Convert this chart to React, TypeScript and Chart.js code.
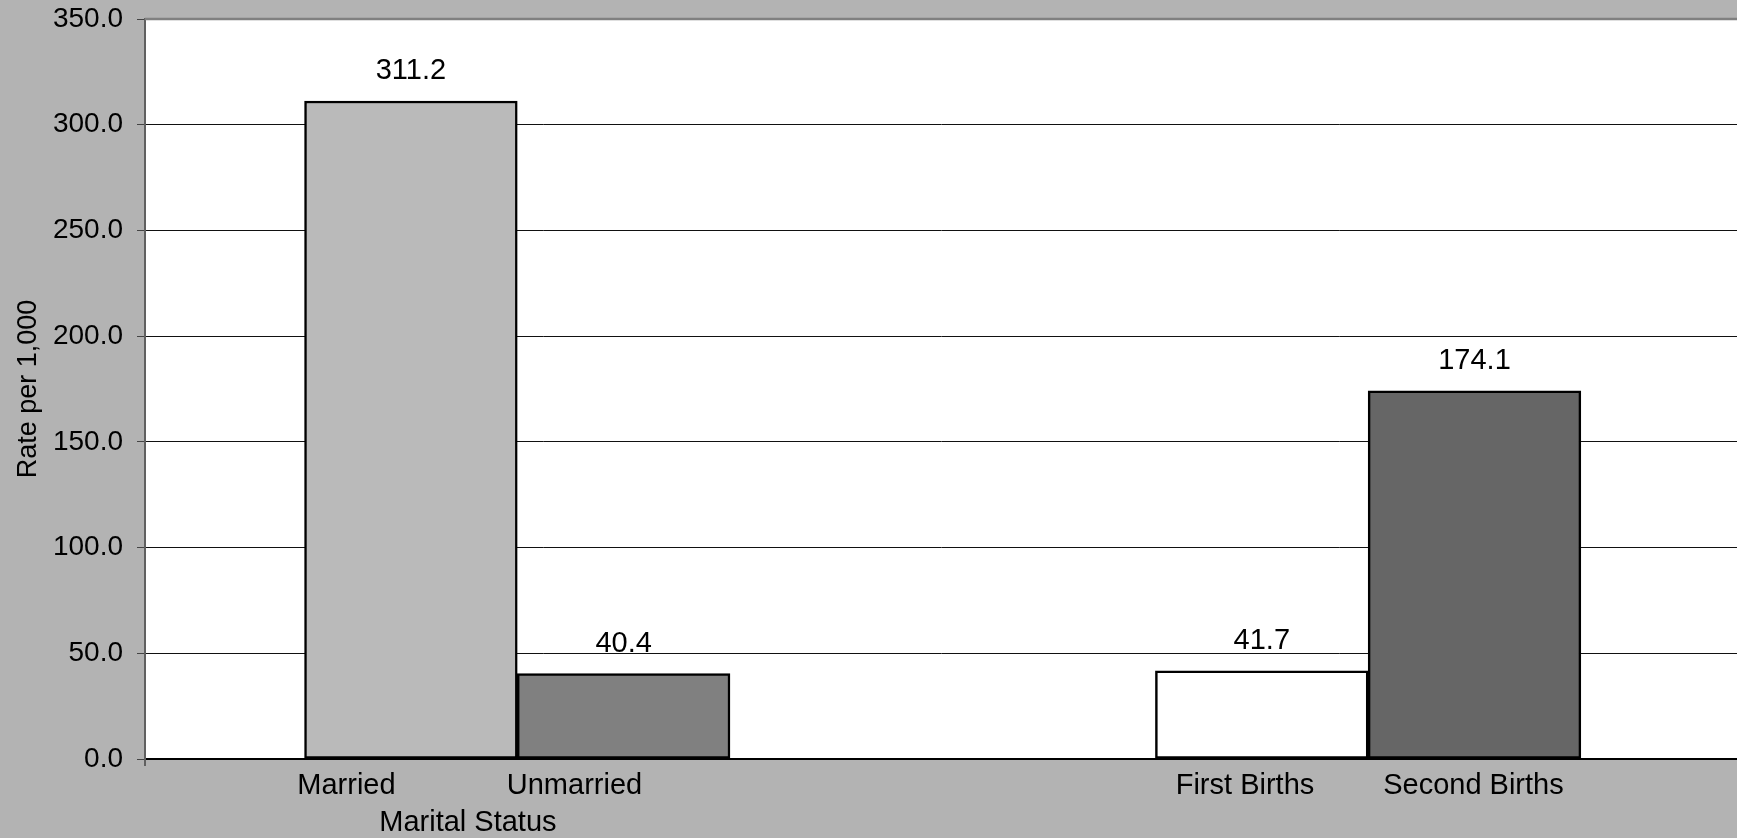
import React, { useEffect, useRef } from "react";
import { Chart, registerables } from "chart.js";

Chart.register(...registerables);

// ---- data ----
const categories = ["Married", "Unmarried", "First Births", "Second Births"];
const rates = [311.2, 40.4, 41.7, 174.1];
const groupOf = [0, 0, 1, 1];
const groupTitles = ["Marital Status"];
const yTicks = [0, 50, 100, 150, 200, 250, 300, 350];
const barColors = ["#bababa", "#808080", "#ffffff", "#666666"];

// ---- layout constants ----
const GAP_SLOTS = 2;
const X_MIN = -1.25;
const X_MAX = 6.234;
const LABEL_NUDGE = [-0.303, -0.231, -0.079, -0.005];
const TITLE_NUDGE = [-0.232];
const FONT = "'Liberation Sans', Arial, sans-serif";
const W = 1737;
const H = 838;

const slotOf = (i: number) => i + groupOf[i] * GAP_SLOTS;
const groupCenter = (g: number) => {
  const s = categories.map((_, i) => i).filter((i) => groupOf[i] === g).map(slotOf);
  return s.reduce((a, b) => a + b, 0) / s.length;
};

const noPad = (scale: any) => {
  scale.paddingTop = 0;
  scale.paddingBottom = 0;
  scale.paddingLeft = 0;
  scale.paddingRight = 0;
};

const plotFrame = {
  id: "plotFrame",
  beforeDraw(chart: any) {
    const { ctx, chartArea: a } = chart;
    ctx.save();
    ctx.fillStyle = "#ffffff";
    ctx.fillRect(a.left, a.top, a.right - a.left, a.bottom - a.top);
    ctx.restore();
  },
  afterDraw(chart: any) {
    const { ctx, chartArea: a } = chart;
    ctx.save();
    ctx.strokeStyle = "#808080";
    ctx.lineWidth = 2.5;
    ctx.beginPath();
    ctx.moveTo(a.left, a.top);
    ctx.lineTo(a.right, a.top);
    ctx.stroke();
    ctx.strokeStyle = "#606060";
    ctx.lineWidth = 2;
    ctx.beginPath();
    ctx.moveTo(a.left, a.bottom);
    ctx.lineTo(a.left, a.bottom + 7);
    ctx.stroke();
    ctx.restore();
  },
};

const valueLabels = {
  id: "valueLabels",
  afterDatasetsDraw(chart: any) {
    const { ctx } = chart;
    const meta = chart.getDatasetMeta(0);
    ctx.save();
    ctx.fillStyle = "#000";
    ctx.font = `29px ${FONT}`;
    ctx.textAlign = "center";
    ctx.textBaseline = "middle";
    meta.data.forEach((bar: any, i: number) => {
      ctx.fillText(rates[i].toFixed(1), bar.x, bar.y - 30);
    });
    ctx.restore();
  },
};

export default function App() {
  const ref = useRef<HTMLCanvasElement>(null);

  useEffect(() => {
    document.body.style.margin = "0";
    document.body.style.background = "#b3b3b3";
    const chart = new Chart(ref.current!, {
      type: "bar",
      data: {
        datasets: [
          {
            data: rates.map((y, i) => ({ x: slotOf(i), y })),
            backgroundColor: barColors,
            borderColor: "#000",
            borderWidth: 2.5,
            borderSkipped: false,
            categoryPercentage: 1,
            barPercentage: 1,
          },
        ],
      },
      options: {
        responsive: false,
        devicePixelRatio: 1,
        animation: false,
        layout: { padding: { top: 19, left: 0, right: 0, bottom: 0 } },
        plugins: { legend: { display: false }, tooltip: { enabled: false } },
        scales: {
          x: {
            type: "linear",
            position: "bottom",
            offset: false,
            weight: 0,
            min: X_MIN,
            max: X_MAX,
            afterBuildTicks: (scale: any) => {
              scale.ticks = categories.map((_, i) => ({ value: slotOf(i) + LABEL_NUDGE[i] }));
            },
            afterFit: (scale: any) => {
              noPad(scale);
              scale.height = 44;
            },
            ticks: {
              autoSkip: false,
              maxRotation: 0,
              padding: 10,
              color: "#000",
              font: { family: FONT, size: 29 },
              callback: (_v: any, i: number) => categories[i],
            },
            grid: { display: false, drawTicks: false, offset: false },
            border: { display: true, color: "#000", width: 2 },
          },
          x2: {
            type: "linear",
            position: "bottom",
            offset: false,
            weight: 1,
            min: X_MIN,
            max: X_MAX,
            afterBuildTicks: (scale: any) => {
              scale.ticks = groupTitles.map((_, g) => ({ value: groupCenter(g) + TITLE_NUDGE[g] }));
            },
            afterFit: (scale: any) => {
              noPad(scale);
              scale.height = 35;
            },
            ticks: {
              autoSkip: false,
              maxRotation: 0,
              padding: 3,
              color: "#000",
              font: { family: FONT, size: 29 },
              callback: (_v: any, i: number) => groupTitles[i],
            },
            grid: { display: false, drawTicks: false, offset: false },
            border: { display: false },
          },
          y: {
            min: yTicks[0],
            max: yTicks[yTicks.length - 1],
            afterBuildTicks: (scale: any) => {
              scale.ticks = yTicks.map((v) => ({ value: v }));
            },
            afterFit: (scale: any) => {
              noPad(scale);
              scale.width = 145;
            },
            ticks: {
              padding: 14,
              color: "#000",
              font: { family: FONT, size: 28 },
              callback: (v: any) => Number(v).toFixed(1),
            },
            grid: { color: "#111", lineWidth: 1, tickLength: 8, tickColor: "#444", drawTicks: true },
            border: { display: true, color: "#606060", width: 2 },
            title: {
              display: true,
              text: "Rate per 1,000",
              color: "#000",
              font: { family: FONT, size: 27 },
              padding: { top: 12, bottom: 0 },
            },
          },
        },
      },
      plugins: [plotFrame, valueLabels],
    } as any);
    return () => chart.destroy();
  }, []);

  return (
    <div style={{ width: W, height: H, background: "#b3b3b3", overflow: "hidden" }}>
      <canvas ref={ref} width={W} height={H} style={{ display: "block" }} />
    </div>
  );
}
